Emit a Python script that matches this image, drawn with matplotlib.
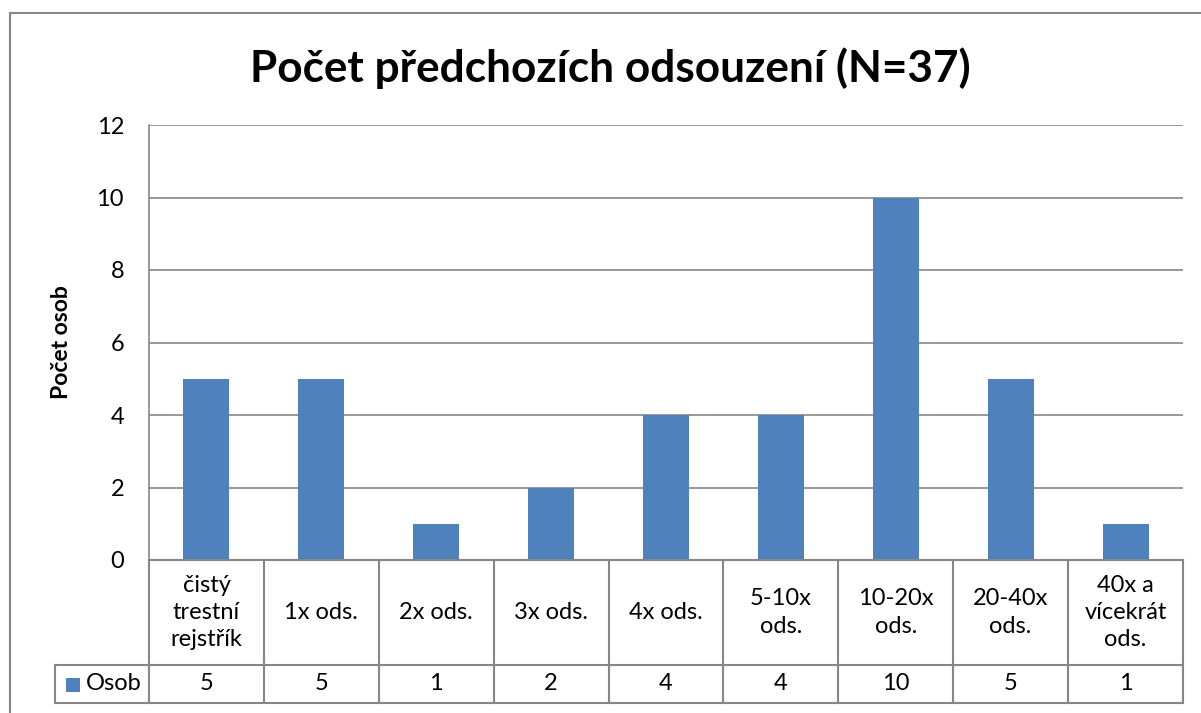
import numpy as np
import matplotlib
matplotlib.use('Agg')
import matplotlib.pyplot as plt
from matplotlib.patches import Rectangle
from matplotlib.lines import Line2D

# ── Data ──
categories = ['čistý\ntrestní\nrejstřík', '1x ods.', '2x ods.', '3x ods.', '4x ods.',
              '5-10x\nods.', '10-20x\nods.', '20-40x\nods.', '40x a\nvícekrát\nods.']
osob = [5, 5, 1, 2, 4, 4, 10, 5, 1]
series_name = 'Osob'
title = 'Počet předchozích odsouzení (N=37)'
ylabel = 'Počet osob'

BAR = '#4F81BD'
GRID = '#868686'
FONT = ['Lato', 'DejaVu Sans']
plt.rcParams['font.family'] = FONT
FS = 17

W, H = 1201, 713
fig = plt.figure(figsize=(W / 100, H / 100), dpi=100)

# pixel helpers (top-left origin)
def fx(px): return px / W
def fy(py): return 1 - py / H

left, right, top, bottom = 149, 1183, 125, 560
ax = fig.add_axes([fx(left), fy(bottom), fx(right - left), (bottom - top) / H])

x = np.arange(len(categories))
ax.bar(x, osob, width=0.4, color=BAR, zorder=3)
ax.set_xlim(-0.5, len(categories) - 0.5)
ax.set_ylim(0, 12)
ax.set_yticks(range(0, 13, 2))
ax.yaxis.grid(True, color=GRID, lw=1.2)
ax.set_axisbelow(True)
ax.tick_params(axis='y', length=0, pad=18, labelsize=FS)
ax.set_xticks([])
for s in ['top', 'right', 'bottom']:
    ax.spines[s].set_visible(False)
ax.spines['left'].set_color(GRID)
ax.spines['left'].set_linewidth(1.2)

# axis title and chart title
fig.text(fx(62), fy(342), ylabel, rotation=90, ha='center', va='center', fontsize=16.5, fontweight='bold')
fig.text(fx(610), fy(68), title, ha='center', va='center', fontsize=31.8, fontweight='bold')

# outer chart border
fig.patches.append(Rectangle((fx(10), fy(1000)), fx(1300), fy(13) - fy(1000), transform=fig.transFigure,
                             fill=False, edgecolor=GRID, lw=1.5))

# ── data table ──
row1, row2 = 665, 703
colw = (right - left) / len(categories)
def hline(x0, x1, y):
    fig.lines.append(Line2D([fx(x0), fx(x1)], [fy(y), fy(y)], transform=fig.transFigure, color=GRID, lw=1.5))
def vline(xp, y0, y1):
    fig.lines.append(Line2D([fx(xp), fx(xp)], [fy(y0), fy(y1)], transform=fig.transFigure, color=GRID, lw=1.5))

hline(left, right, bottom)
hline(55, right, row1)
hline(55, right, row2)
vline(55, row1, row2)
for i in range(len(categories) + 1):
    vline(left + i * colw, bottom, row2)

for i, (c, v) in enumerate(zip(categories, osob)):
    cx = left + (i + 0.5) * colw
    fig.text(fx(cx), fy((bottom + row1) / 2), c, ha='center', va='center', fontsize=FS, linespacing=1.38)
    fig.text(fx(cx), fy((row1 + row2) / 2), str(v), ha='center', va='center', fontsize=FS)

fig.patches.append(Rectangle((fx(66), fy(692)), fx(14), fy(678) - fy(692), transform=fig.transFigure,
                             facecolor=BAR, edgecolor='none'))
fig.text(fx(86), fy((row1 + row2) / 2), series_name, ha='left', va='center', fontsize=FS)

plt.savefig('out.png', dpi=100)
plt.close()
